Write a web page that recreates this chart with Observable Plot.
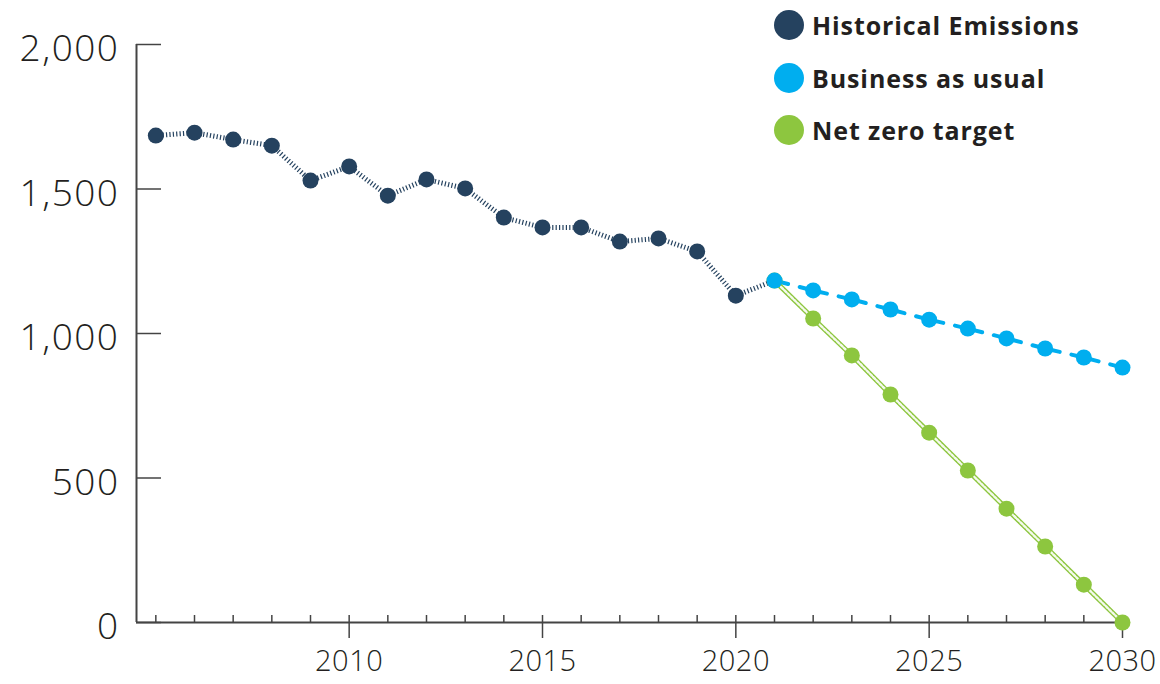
<!DOCTYPE html>
<html><head><meta charset="utf-8">
<script src="https://cdn.jsdelivr.net/npm/d3@7"></script>
<script src="https://cdn.jsdelivr.net/npm/@observablehq/plot@0.6"></script>
<style>
body{margin:0;background:#fff;}
#wrap{position:relative;width:1160px;height:684px;}
.legend{position:absolute;left:774px;top:0;font-family:"Open Sans",sans-serif;font-weight:700;font-size:25px;letter-spacing:0.9px;color:#231f20;}
.item{position:absolute;left:0;display:flex;align-items:center;white-space:nowrap;height:30px;}
.sw{width:30px;height:30px;border-radius:50%;margin-right:8px;flex:none;}
g[aria-label="y-axis tick label"] text{letter-spacing:1.5px;}
g[aria-label="x-axis tick label"] text{letter-spacing:0.5px;}
</style></head>
<body><div id="wrap"></div>
<script>
const histYears = [2005,2006,2007,2008,2009,2010,2011,2012,2013,2014,2015,2016,2017,2018,2019,2020,2021];
const histValues = [1685,1695,1671,1650,1529,1578,1477,1533,1502,1401,1367,1367,1318,1329,1284,1131,1183];
const projYears = [2021,2022,2023,2024,2025,2026,2027,2028,2029,2030];
const bauValues = [1183,1149,1118,1083,1048,1017,983,948,917,882];
const netZeroValues = [1183,1052,924,789,657,526,394,263,131,0];
const yTicks = [0,500,1000,1500,2000];
const xMajorTicks = [2010,2015,2020,2025,2030];
const xMinorTicks = d3.range(2005, 2031);
const seriesNames = ["Historical Emissions","Business as usual","Net zero target"];
const seriesColors = ["#25425f","#00aeef","#8dc63f"];

const hist = histYears.map((year,i)=>({year, value: histValues[i]}));
const bau = projYears.map((year,i)=>({year, value: bauValues[i]}));
const nz = projYears.map((year,i)=>({year, value: netZeroValues[i]}));
const xDomain = [2004.5, 2030];
const axisColor = "#444";
const numFont = "'Open Sans', sans-serif";

const chart = Plot.plot({
  width: 1160, height: 684,
  marginLeft: 136, marginRight: 38, marginTop: 44, marginBottom: 62,
  style: {fontFamily: numFont, color: "#231f20", background: "#fff"},
  x: {domain: xDomain},
  y: {domain: [0, 2000]},
  marks: [
    Plot.ruleX([xDomain[0]], {stroke: axisColor, strokeWidth: 2}),
    Plot.ruleY([0], {stroke: axisColor, strokeWidth: 2}),
    Plot.axisY(yTicks, {tickSize: -25, fill: "none", stroke: axisColor, strokeWidth: 1.5, label: null}),
    Plot.axisY(yTicks, {tickSize: 0, tickPadding: 17, tickFormat: d3.format(","), fontSize: 37, fontWeight: 300, dy: 5, label: null, fill: "#231f20"}),
    Plot.axisX(xMinorTicks, {tickSize: -7, fill: "none", stroke: axisColor, strokeWidth: 1.5, label: null}),
    Plot.axisX(xMajorTicks, {tickSize: 16, fill: "none", stroke: axisColor, strokeWidth: 1.5, label: null}),
    Plot.axisX(xMajorTicks, {tickSize: 0, tickPadding: 28, tickFormat: d => String(d), fontSize: 29, fontWeight: 300, label: null, fill: "#231f20"}),
    Plot.line(hist, {x: "year", y: "value", stroke: seriesColors[0], strokeWidth: 5, strokeDasharray: "1.2,2.2", strokeLinecap: "butt"}),
    Plot.line(bau, {x: "year", y: "value", stroke: seriesColors[1], strokeWidth: 4, strokeDasharray: "28,12", strokeDashoffset: 14, strokeLinecap: "round"}),
    Plot.line(nz, {x: "year", y: "value", stroke: seriesColors[2], strokeWidth: 5}),
    Plot.line(nz, {x: "year", y: "value", stroke: "#fff", strokeWidth: 2.4, strokeDasharray: "2.6,2", strokeOpacity: 0.9}),
    Plot.dot(nz, {x: "year", y: "value", r: 8, fill: seriesColors[2]}),
    Plot.dot(bau, {x: "year", y: "value", r: 8, fill: seriesColors[1]}),
    Plot.dot(hist.filter(d => d.year <= 2020), {x: "year", y: "value", r: 8, fill: seriesColors[0]})
  ]
});
const wrap = document.getElementById("wrap");
wrap.appendChild(chart);
const legend = document.createElement("div");
legend.className = "legend";
const legendTops = [10, 63, 115];
seriesNames.forEach((name, i) => {
  const item = document.createElement("div");
  item.className = "item";
  item.style.top = legendTops[i] + "px";
  const sw = document.createElement("span");
  sw.className = "sw";
  sw.style.background = seriesColors[i];
  const t = document.createElement("span");
  t.textContent = name;
  item.appendChild(sw); item.appendChild(t);
  legend.appendChild(item);
});
wrap.appendChild(legend);
</script>
</body></html>
